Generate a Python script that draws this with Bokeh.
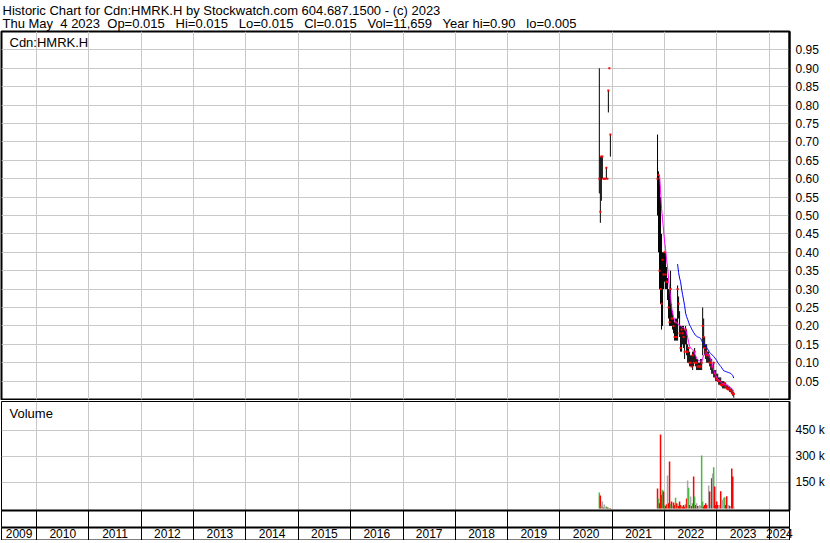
import numpy as np
import pandas as pd
from bokeh.plotting import figure
from bokeh.layouts import column
from bokeh.models import (ColumnDataSource, Range1d, LinearAxis, FixedTicker, Grid, Title,
                          Label, NumeralTickFormatter, CustomJSTickFormatter)
from bokeh.embed import file_html
from bokeh.resources import INLINE

# ---------------- texts ----------------
GAP = "\u00a0\u00a0 "
header_line1 = "Historic Chart for Cdn:HMRK.H by Stockwatch.com 604.687.1500 - (c) 2023"
header_line2 = ("Thu May\u00a0 4 2023\u00a0 Op=0.015" + GAP + "Hi=0.015" + GAP + "Lo=0.015" + GAP +
                "Cl=0.015" + GAP + "Vol=11,659" + GAP + "Year hi=0.90" + GAP + "lo=0.005")
symbol_label = "Cdn:HMRK.H"
volume_label = "Volume"

# ---------------- axes ----------------
view_start = "2009-05-01"
view_end = "2024-05-21"
year_labels = ["2009", "2010", "2011", "2012", "2013", "2014", "2015", "2016",
               "2017", "2018", "2019", "2020", "2021", "2022", "2023", "2024"]
price_ticks = [0.05, 0.10, 0.15, 0.20, 0.25, 0.30, 0.35, 0.40, 0.45, 0.50,
               0.55, 0.60, 0.65, 0.70, 0.75, 0.80, 0.85, 0.90, 0.95]
volume_ticks = [150000, 300000, 450000]
volume_tick_labels = ["150 k", "300 k", "450 k"]

# ---------------- weekly data, autumn 2020 ----------------
start_2020 = "2020-10-02"
high_2020 = [0.90, 0.66, 0.66, 0.66, 0.60, 0.60, 0.60, 0.63, 0.60, 0.84, 0.90, 0.72]
low_2020 = [0.56, 0.48, 0.54, 0.60, 0.60, 0.60, 0.60, 0.60, 0.60, 0.78, 0.90, 0.66]
close_2020 = [0.60, 0.51, 0.66, 0.66, 0.60, 0.60, 0.60, 0.63, 0.60, 0.84, 0.90, 0.72]
volume_2020_k = [92, 75, 16, 42, 6, 23, 5, 12, 6, 4, 3, 3]

# ---------------- weekly data, Nov 2021 - May 2023 ----------------
start_2021 = "2021-11-12"
high_2021 = [0.72, 0.62, 0.60, 0.55, 0.45, 0.40, 0.40, 0.40, 0.40, 0.36,
             0.33, 0.30, 0.30, 0.35, 0.26, 0.24, 0.22, 0.21, 0.22, 0.22,
             0.31, 0.28, 0.24, 0.20, 0.20, 0.20, 0.20, 0.19, 0.20, 0.19,
             0.15, 0.14, 0.13, 0.12, 0.12, 0.13, 0.13, 0.14, 0.12, 0.11,
             0.11, 0.10, 0.10, 0.11, 0.11, 0.25, 0.22, 0.17, 0.15, 0.15,
             0.13, 0.13, 0.12, 0.11, 0.11, 0.09, 0.10, 0.08, 0.08, 0.07,
             0.07, 0.06, 0.06, 0.06, 0.05, 0.05, 0.05, 0.045, 0.045, 0.04,
             0.04, 0.035, 0.035, 0.03, 0.03, 0.025, 0.02]
low_2021 = [0.50, 0.40, 0.30, 0.26, 0.19, 0.20, 0.30, 0.32, 0.30, 0.30,
            0.27, 0.22, 0.20, 0.20, 0.20, 0.19, 0.18, 0.16, 0.16, 0.16,
            0.16, 0.22, 0.17, 0.13, 0.13, 0.15, 0.14, 0.11, 0.15, 0.12,
            0.10, 0.10, 0.09, 0.09, 0.09, 0.08, 0.09, 0.10, 0.09, 0.08,
            0.08, 0.08, 0.08, 0.08, 0.08, 0.12, 0.14, 0.12, 0.11, 0.10,
            0.10, 0.10, 0.09, 0.08, 0.07, 0.07, 0.06, 0.06, 0.05, 0.05,
            0.05, 0.04, 0.04, 0.04, 0.035, 0.03, 0.03, 0.03, 0.03, 0.03,
            0.025, 0.025, 0.02, 0.02, 0.015, 0.01, 0.005]
close_2021 = [0.60, 0.61, 0.35, 0.30, 0.26, 0.38, 0.34, 0.40, 0.34, 0.32,
              0.32, 0.25, 0.21, 0.30, 0.22, 0.22, 0.20, 0.17, 0.21, 0.17,
              0.30, 0.26, 0.18, 0.14, 0.19, 0.18, 0.17, 0.13, 0.19, 0.13,
              0.13, 0.14, 0.10, 0.10, 0.09, 0.12, 0.10, 0.13, 0.10, 0.10,
              0.09, 0.09, 0.09, 0.09, 0.10, 0.20, 0.17, 0.14, 0.13, 0.12,
              0.12, 0.12, 0.10, 0.10, 0.09, 0.09, 0.10, 0.07, 0.06, 0.055,
              0.05, 0.05, 0.05, 0.04, 0.04, 0.04, 0.04, 0.045, 0.035, 0.03,
              0.03, 0.03, 0.025, 0.025, 0.02, 0.015, 0.015]
volume_2021_k = [115, 58, 30, 427, 80, 108, 98, 20, 15, 25,
                 190, 30, 271, 25, 40, 15, 35, 20, 62, 30,
                 25, 15, 40, 20, 15, 10, 20, 10, 25, 58,
                 161, 119, 20, 69, 15, 30, 185, 69, 20, 30,
                 15, 10, 20, 15, 306, 40, 12, 20, 30, 20,
                 20, 133, 98, 20, 175, 202, 238, 127, 20, 40,
                 20, 10, 20, 100, 20, 50, 62, 65, 20, 71,
                 15, 20, 15, 10, 231, 185, 12]
ma_fast_2021 = [None, None, 0.61, 0.57, 0.52, 0.49, 0.46, 0.43, 0.41, 0.38,
                0.36, 0.33, 0.30, 0.28, 0.25, 0.235, 0.225, 0.215, 0.21, 0.21,
                0.205, 0.205, 0.20, 0.20, 0.198, 0.195, 0.195, 0.192, 0.19, 0.18,
                0.17, 0.155, 0.145, 0.14, 0.137, 0.135, 0.133, 0.125, 0.118, 0.112,
                0.108, 0.106, 0.105, 0.104, 0.103, 0.112, 0.12, 0.123, 0.125, 0.126,
                0.125, 0.12, 0.116, 0.11, 0.10, 0.09, 0.08, 0.072, 0.066, 0.06,
                0.056, 0.053, 0.05, 0.048, 0.045, 0.043, 0.042, 0.041, 0.04, 0.039,
                0.038, 0.036, 0.034, 0.032, 0.03, 0.027, 0.022]
ma_slow_2021 = [None, None, None, None, None, None, None, None, None, None,
                None, None, None, None, None, None, None, None, None, None,
                0.368, 0.345, 0.33, 0.32, 0.30, 0.285, 0.27, 0.255, 0.235, 0.225,
                0.218, 0.21, 0.202, 0.198, 0.192, 0.187, 0.182, 0.178, 0.174, 0.172,
                0.17, 0.169, 0.168, 0.166, 0.16, 0.155, 0.152, 0.148, 0.145, 0.14,
                0.137, 0.132, 0.128, 0.125, 0.122, 0.12, 0.117, 0.113, 0.11, 0.106,
                0.10, 0.097, 0.093, 0.09, 0.086, 0.082, 0.078, 0.077, 0.076, 0.075,
                0.074, 0.073, 0.072, 0.071, 0.068, 0.065, 0.058]

# ---------------- styles ----------------
FONT = "Liberation Sans"
GRID = "#c8c8c8"
UP, DOWN, FLAT = "#4cb848", "#ff0000", "#a8a8a8"
WEEK_MS = 7 * 24 * 3600 * 1000


def ms(t):
    return int(pd.Timestamp(t).value // 1_000_000)


def weeks(start, n):
    return [ms(d) for d in pd.date_range(start, periods=n, freq="7D")]


x_2020 = weeks(start_2020, len(close_2020))
x_2021 = weeks(start_2021, len(close_2021))

xs_all = x_2020 + x_2021
high_all = high_2020 + high_2021
low_all = low_2020 + low_2021
close_all = close_2020 + close_2021
vol_all = [v * 1000 for v in volume_2020_k + volume_2021_k]
colors = []
for i, c in enumerate(close_all):
    if i == 0 or c > close_all[i - 1] + 1e-9:
        colors.append(UP)
    elif c < close_all[i - 1] - 1e-9:
        colors.append(DOWN)
    else:
        colors.append(FLAT)

price_src = ColumnDataSource(dict(x=xs_all, high=high_all, low=low_all, close=close_all))
vol_src = ColumnDataSource(dict(x=xs_all, vol=vol_all, color=colors))
ma_src = ColumnDataSource(dict(
    x=x_2021,
    fast=[np.nan if v is None else v for v in ma_fast_2021],
    slow=[np.nan if v is None else v for v in ma_slow_2021]))

x0, x1 = ms(view_start), ms(view_end)
year_bounds = [ms(f"{y}-01-01") for y in range(2010, 2025)]
separators = [x0] + year_bounds + [x1]
label_pos = []
for y in year_labels:
    lo = max(ms(f"{y}-01-01"), x0)
    hi = min(ms(f"{int(y) + 1}-01-01"), x1)
    label_pos.append((lo + hi) // 2)

x_range = Range1d(x0, x1)
FRAME_W = 788

# ---------------- price panel ----------------
p = figure(frame_width=FRAME_W, frame_height=368, x_range=x_range, y_range=Range1d(0, 1.0),
           x_axis_type=None, y_axis_type=None, toolbar_location=None, output_backend="svg",
           title=None, min_border_left=1, min_border_right=41, min_border_top=30,
           min_border_bottom=1, outline_line_color="black", outline_line_width=2,
           background_fill_color="white", border_fill_color="white")
p.add_layout(Grid(dimension=0, ticker=FixedTicker(ticks=year_bounds), grid_line_color=GRID))
p.add_layout(Grid(dimension=1, ticker=FixedTicker(ticks=price_ticks), grid_line_color=GRID))

pa = LinearAxis(ticker=FixedTicker(ticks=price_ticks), formatter=NumeralTickFormatter(format="0.00"),
                axis_line_color="black", axis_line_width=2, major_tick_out=0, major_tick_in=0,
                minor_tick_out=0, minor_tick_in=0, major_label_standoff=6,
                major_label_text_font=FONT, major_label_text_font_size="12px",
                major_label_text_color="black")
p.add_layout(pa, "right")

p.add_layout(Title(text=header_line1 + "\n" + header_line2, align="left", offset=1, standoff=0,
                   text_font=FONT, text_font_size="13px", text_font_style="normal",
                   text_color="black", text_line_height=0.93), "above")

p.add_layout(Label(x=8, y=365, x_units="screen", y_units="screen", text=symbol_label,
                   text_baseline="top", text_font=FONT, text_font_size="13px",
                   text_color="black"))

p.segment(x0="x", y0="low", x1="x", y1="high", source=price_src, line_color="black", line_width=1)
p.scatter("x", "close", source=price_src, marker="square", size=2,
          fill_color="#ff0000", line_color=None)
p.line("x", "fast", source=ma_src, line_color="#ff00ff", line_width=1)
p.line("x", "slow", source=ma_src, line_color="#0000ff", line_width=1)

# ---------------- volume panel ----------------
v = figure(frame_width=FRAME_W, frame_height=109, x_range=x_range, y_range=Range1d(-11500, 617000),
           x_axis_type=None, y_axis_type=None, toolbar_location=None, output_backend="svg",
           title=None, min_border_left=1, min_border_right=41, min_border_top=1,
           min_border_bottom=0, outline_line_color="black", outline_line_width=1,
           background_fill_color="white", border_fill_color="white")
v.add_layout(Grid(dimension=0, ticker=FixedTicker(ticks=year_bounds), grid_line_color=GRID))
v.add_layout(Grid(dimension=1, ticker=FixedTicker(ticks=volume_ticks), grid_line_color=GRID))

va = LinearAxis(ticker=FixedTicker(ticks=volume_ticks),
                major_label_overrides=dict(zip(volume_ticks, volume_tick_labels)),
                axis_line_color="black", axis_line_width=2, major_tick_out=0, major_tick_in=0,
                minor_tick_out=0, minor_tick_in=0, major_label_standoff=6,
                major_label_text_font=FONT, major_label_text_font_size="12px",
                major_label_text_color="black")
v.add_layout(va, "right")

v.add_layout(Label(x=8, y=105, x_units="screen", y_units="screen", text=volume_label,
                   text_baseline="top", text_font=FONT, text_font_size="13px",
                   text_color="black"))

v.vbar(x="x", top="vol", bottom=0, width=1.5 * WEEK_MS, source=vol_src,
       fill_color="color", line_color=None)

empty = CustomJSTickFormatter(code="return ''")
tick_axis = LinearAxis(ticker=FixedTicker(ticks=separators), formatter=empty,
                       axis_line_color="black", axis_line_width=2,
                       major_tick_out=17, major_tick_in=0, major_tick_line_color="black",
                       minor_tick_out=0, minor_tick_in=0, major_label_standoff=-6,
                       major_label_text_font_size="1px")
v.add_layout(tick_axis, "below")

label_axis = LinearAxis(ticker=FixedTicker(ticks=label_pos, minor_ticks=separators),
                        major_label_overrides=dict(zip(label_pos, year_labels)),
                        axis_line_color="black", axis_line_width=2,
                        major_tick_out=0, major_tick_in=0,
                        minor_tick_out=14, minor_tick_in=0, minor_tick_line_color="black",
                        major_label_standoff=-13, major_label_text_font=FONT,
                        major_label_text_font_size="12px", major_label_text_color="black")
v.add_layout(label_axis, "below")

bottom_axis = LinearAxis(ticker=FixedTicker(ticks=[]), formatter=empty,
                         axis_line_color="black", axis_line_width=2,
                         major_tick_out=0, major_tick_in=0, minor_tick_out=0, minor_tick_in=0,
                         major_label_standoff=-5, major_label_text_font_size="1px")
v.add_layout(bottom_axis, "below")

layout = column(p, v, spacing=0)
open("out.html", "w").write(file_html(layout, INLINE))
